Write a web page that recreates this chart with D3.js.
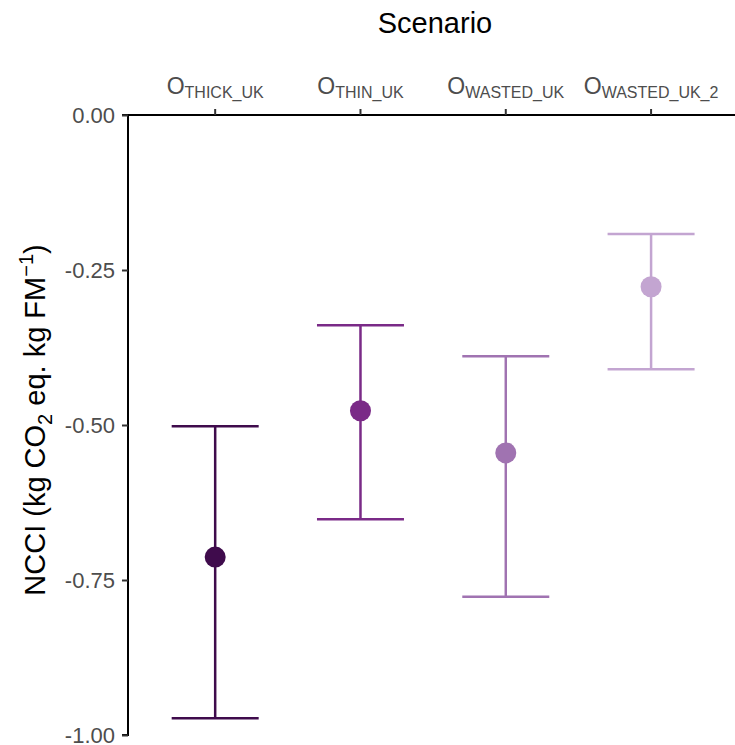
<!DOCTYPE html>
<html>
<head>
<meta charset="utf-8">
<script src="https://cdn.jsdelivr.net/npm/d3@7"></script>
<style>
  html, body { margin: 0; padding: 0; background: #fff; }
  svg { display: block; font-family: "Liberation Sans", Arial, sans-serif; }
</style>
</head>
<body>
<svg id="chart" width="735" height="745"></svg>
<script>
// Scenario estimates of NCCI with lower/upper bounds
const scenarios = ["THICK_UK", "THIN_UK", "WASTED_UK", "WASTED_UK_2"];
const meanValues = [-0.713, -0.477, -0.545, -0.277];
const lowerValues = [-0.973, -0.652, -0.777, -0.410];
const upperValues = [-0.502, -0.339, -0.389, -0.192];
const colors = ["#3f0b4c", "#7a2a87", "#a073b1", "#c3a5d1"];
const yTicks = [0, -0.25, -0.5, -0.75, -1];

const svg = d3.select("#chart");
const margin = { left: 128, top: 115 };
const width = 735;
const FONT = "Liberation Sans, Arial, sans-serif";

const x = d3.scaleBand()
  .domain(scenarios)
  .range([margin.left, margin.left + 145.3 * 4.2])
  .paddingOuter(0.1)
  .paddingInner(0);

const y = d3.scaleLinear().domain([0, -1]).range([margin.top, 735]);

const cx = d => x(d) + x.bandwidth() / 2;
const capHalf = 43.5;

// y axis (plain hyphen for negative numbers)
const fmt = d3.format(".2f");
const yAxis = d3.axisLeft(y).tickValues(yTicks)
  .tickFormat(d => fmt(d).replace("\u2212", "-"))
  .tickSize(6).tickPadding(7);
const gy = svg.append("g").attr("transform", `translate(${margin.left},0)`).call(yAxis);
gy.select(".domain").attr("stroke", "#000").attr("stroke-width", 2).attr("d", `M-6,${y(0)}H0V${y(-1)}H-6`);
gy.selectAll(".tick line").attr("stroke", "#333").attr("stroke-width", 2);
gy.selectAll(".tick text")
  .style("fill", "#4d4d4d").style("font-size", "22px").style("font-family", FONT)
  .attr("dy", "0.36em");

// x axis on top
const gx = svg.append("g").attr("transform", `translate(0,${margin.top})`)
  .call(d3.axisTop(x).tickSize(6).tickFormat(""));
gx.select(".domain").attr("stroke", "#000").attr("stroke-width", 2)
  .attr("d", `M${margin.left},0H${width}`);
gx.selectAll(".tick line").attr("stroke", "#333").attr("stroke-width", 2);

// category labels: "O" with subscripted scenario name
gx.selectAll(".tick").each(function(d) {
  const t = d3.select(this).append("text")
    .attr("y", -21)
    .attr("text-anchor", "middle")
    .style("fill", "#4d4d4d")
    .style("font-family", FONT);
  t.append("tspan").style("font-size", "23px").text("O");
  t.append("tspan").style("font-size", "16px").attr("dy", 4).text(d);
});

// error bars
const bars = svg.append("g").selectAll("g").data(scenarios).join("g");
bars.append("line")
  .attr("x1", d => cx(d)).attr("x2", d => cx(d))
  .attr("y1", (d, i) => y(upperValues[i])).attr("y2", (d, i) => y(lowerValues[i]))
  .attr("stroke", (d, i) => colors[i]).attr("stroke-width", 2.5);
bars.append("line")
  .attr("x1", d => cx(d) - capHalf).attr("x2", d => cx(d) + capHalf)
  .attr("y1", (d, i) => y(upperValues[i])).attr("y2", (d, i) => y(upperValues[i]))
  .attr("stroke", (d, i) => colors[i]).attr("stroke-width", 2.5);
bars.append("line")
  .attr("x1", d => cx(d) - capHalf).attr("x2", d => cx(d) + capHalf)
  .attr("y1", (d, i) => y(lowerValues[i])).attr("y2", (d, i) => y(lowerValues[i]))
  .attr("stroke", (d, i) => colors[i]).attr("stroke-width", 2.5);
bars.append("circle")
  .attr("cx", d => cx(d)).attr("cy", (d, i) => y(meanValues[i]))
  .attr("r", 10.5).attr("fill", (d, i) => colors[i]);

// axis titles
svg.append("text")
  .attr("x", 435).attr("y", 33)
  .attr("text-anchor", "middle")
  .style("font-size", "29px").style("fill", "#000").style("font-family", FONT)
  .text("Scenario");

const yt = svg.append("text")
  .attr("transform", `translate(45,420) rotate(-90)`)
  .attr("text-anchor", "middle")
  .style("font-size", "29px").style("fill", "#000").style("font-family", FONT);
yt.append("tspan").text("NCCI (kg CO");
yt.append("tspan").style("font-size", "20px").attr("dy", 7).text("2");
yt.append("tspan").attr("dy", -7).text(" eq. kg FM");
yt.append("tspan").style("font-size", "20px").attr("dy", -12).text("\u22121");
yt.append("tspan").attr("dy", 12).text(")");
</script>
</body>
</html>
